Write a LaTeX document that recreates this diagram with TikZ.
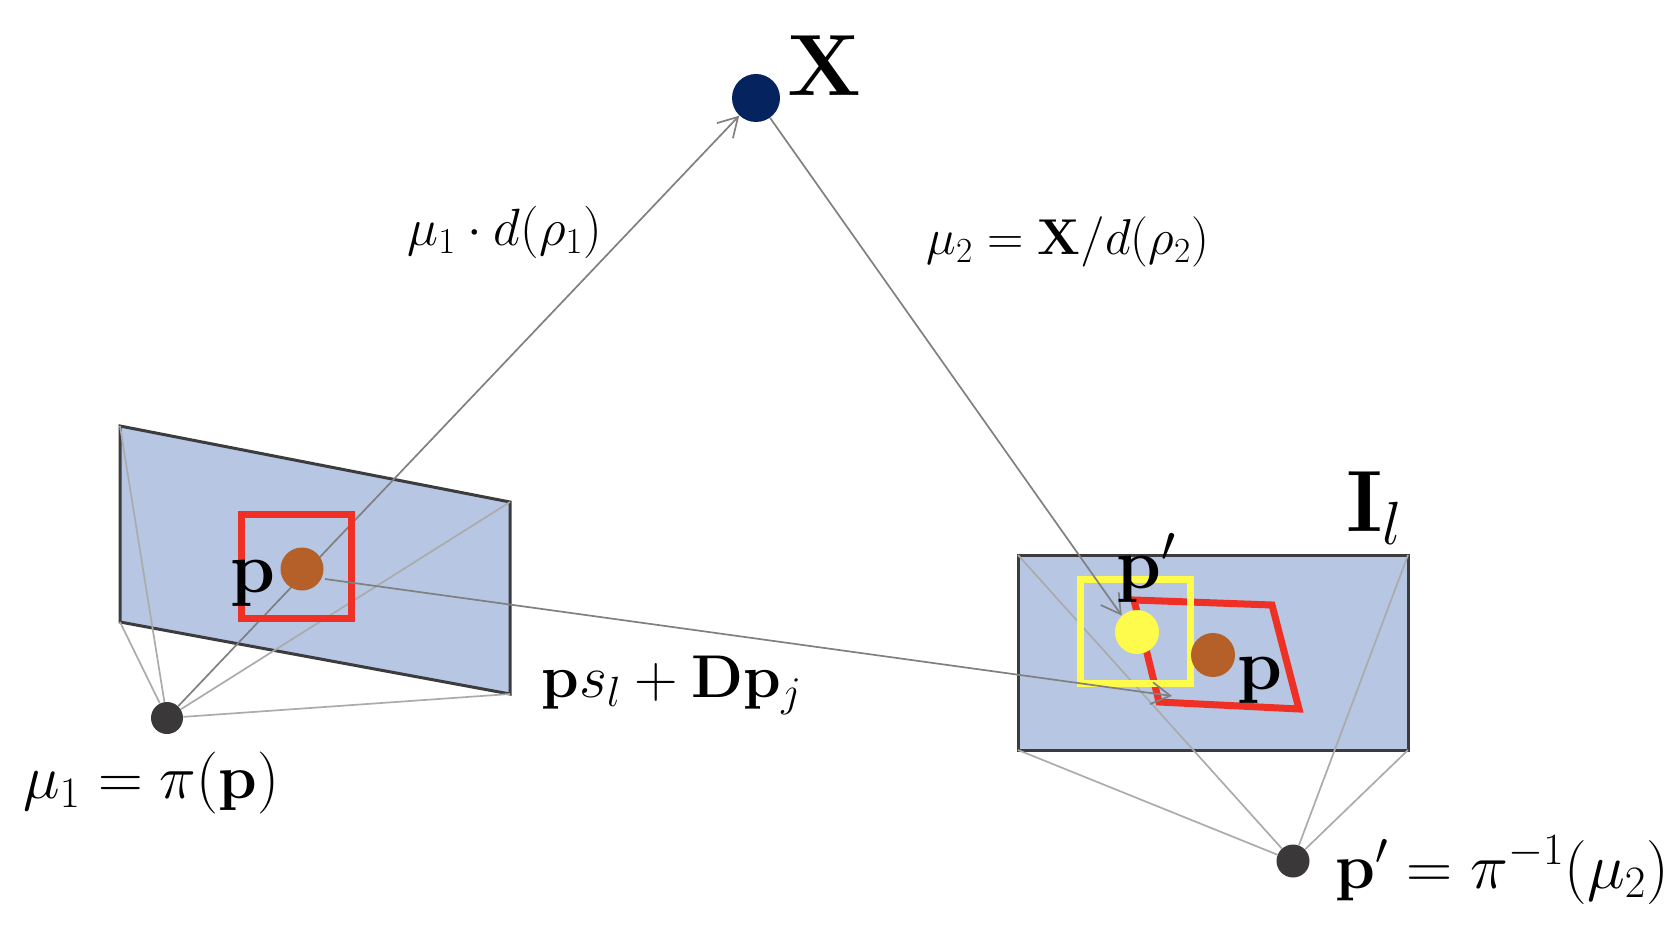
\RequirePackage{fix-cm}
\documentclass[tikz,border=0pt]{standalone}
\usetikzlibrary{arrows.meta}
\definecolor{planeblue}{HTML}{B6C6E3}
\definecolor{planeedge}{HTML}{3C3B3D}
\definecolor{redbox}{HTML}{EE3124}
\definecolor{yellowbox}{HTML}{FFFB4D}
\definecolor{brownpt}{HTML}{B56028}
\definecolor{navypt}{HTML}{04235F}
\definecolor{camdark}{HTML}{3A3839}
\tikzset{
  plane/.style={fill=planeblue,draw=planeedge,line width=1.5pt,line join=miter},
  lightline/.style={draw=black!33,line width=0.85pt},
  rayarrow/.style={draw=black!50,line width=0.85pt,-{Straight Barb[length=9.5pt,width=11pt,line width=0.85pt]}},
  patch/.style={line width=3.5pt,line join=miter},
  dot/.style={circle,inner sep=0pt,minimum size=#1},
  lbl/.style={inner sep=0pt,anchor=base west,text=black},
}
\newcommand{\fsz}[1]{\fontsize{#1}{#1}\selectfont}
\pgfdeclarelayer{top}\pgfsetlayers{main,top}
\begin{document}
\begin{tikzpicture}[x=0.5pt,y=-0.5pt]
\useasboundingbox (0,0) rectangle (1674,930);
% planes
\coordinate (la) at (120,426);
\coordinate (lb) at (510,502);
\coordinate (lc) at (510,694);
\coordinate (ld) at (120,622);
\coordinate (ra) at (1018,555);
\coordinate (rb) at (1408,555);
\coordinate (rc) at (1408,750);
\coordinate (rd) at (1018,750);
\draw[plane] (la) -- (lb) -- (lc) -- (ld) -- cycle;
\draw[plane] (ra) -- (rb) -- (rc) -- (rd) -- cycle;
\begin{pgfonlayer}{top}
\node[dot=16pt,fill=camdark] (camL) at (167,718) {};
\node[dot=16.5pt,fill=camdark] (camR) at (1293,861) {};
\node[dot=24pt,fill=navypt] (X) at (756,98) {};
\node[dot=21.5pt,fill=brownpt] (pL) at (302,569) {};
\node[dot=22pt,fill=yellowbox] (pY) at (1137,632) {};
\node[dot=22pt,fill=brownpt] (pR) at (1213,655) {};
\end{pgfonlayer}
% light frustum lines
\draw[lightline] (la) -- (camL);
\draw[lightline] (lb) -- (camL);
\draw[lightline] (lc) -- (camL);
\draw[lightline] (ld) -- (camL);
\draw[lightline] (ra) -- (camR);
\draw[lightline] (rb) -- (camR);
\draw[lightline] (rc) -- (camR);
\draw[lightline] (rd) -- (camR);
% rays under the patches
\draw[rayarrow] (camL) -- (X);
\coordinate (warpEnd) at (1172,696);
\coordinate (warpStart) at (325,579);
% patches
\draw[patch,draw=redbox] (241.5,514.5) rectangle (351.5,618.5);
\draw[patch,draw=redbox] (1134,600) -- (1272,605) -- (1299,709) -- (1159,702) -- cycle;
\draw[patch,draw=yellowbox] (1080.5,579.5) rectangle (1190.5,683.5);
% rays over the patches
\draw[rayarrow] (warpStart) -- (warpEnd);
\draw[rayarrow] (X) -- (pY.133);
% labels
\begin{pgfonlayer}{top}
\node[lbl] (tX) at (787,96) {\fsz{43.5}$\mathbf{X}$};
\node[lbl] (tA) at (407,246) {\fsz{26.2}$\mu_1\cdot d(\rho_1)$};
\node[lbl] (tB) at (926,255) {\fsz{25.2}$\mu_2=\mathbf{X}/d(\rho_2)$};
\node[lbl] (tC) at (541,697) {\fsz{30.2}$\mathbf{p}s_l+\mathbf{D}\mathbf{p}_j$};
\node[lbl] (tD) at (23,798) {\fsz{31}$\mu_1=\pi(\mathbf{p})$};
\node[lbl] (tE) at (1335,888) {\fsz{32}$\mathbf{p}'=\pi^{-1}(\mu_2)$};
\node[lbl] (tF) at (1346,531) {\fsz{43.5}$\mathbf{I}_l$};
\node[lbl] (tG) at (230,592) {\fsz{36}$\mathbf{p}$};
\node[lbl] (tH) at (1237,689) {\fsz{36}$\mathbf{p}$};
\node[lbl] (tI) at (1116,588) {\fsz{36}$\mathbf{p}'$};
\end{pgfonlayer}
\end{tikzpicture}
\end{document}
